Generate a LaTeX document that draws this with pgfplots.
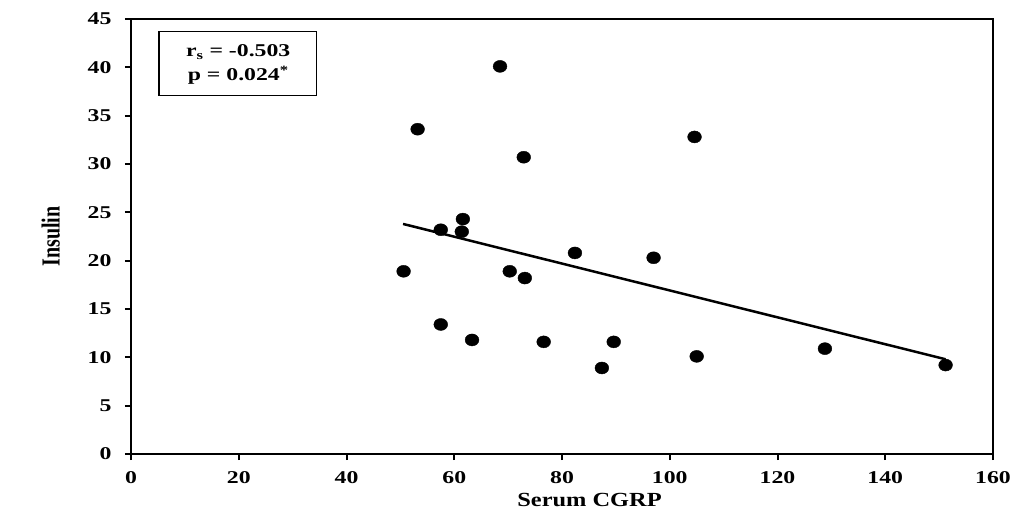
\documentclass[border=0pt]{standalone}
\usepackage{fontspec}
\setmainfont{Liberation Serif}[FakeStretch=1.32]
\newfontfamily\labelfont{Liberation Serif}[FakeStretch=1.22]
\newfontfamily\plainfont{Liberation Serif}
\usepackage{graphicx}
\usepackage{pgfplots}
\pgfplotsset{compat=1.18}
\begin{document}
\begin{tikzpicture}
\begin{axis}[
  scale only axis,
  width=862pt, height=435pt,
  xmin=0, xmax=160, ymin=0, ymax=45,
  xtick={0,20,...,160}, ytick={0,5,...,45},
  tick align=outside, xtick pos=bottom, ytick pos=left,
  major tick length=6pt,
  axis line style={line width=2.5pt},
  every tick/.style={black, line width=2pt},
  ticklabel style={font=\fontsize{18}{20}\selectfont\bfseries},
  xticklabel style={yshift=-8pt},
  yticklabel style={xshift=-10pt},
  /pgf/number format/assume math mode=true,
  xlabel={\labelfont\bfseries Serum CGRP},
  ylabel={\scalebox{1}[1.3]{\plainfont\bfseries Insulin}},
  label style={font=\fontsize{20}{22}\selectfont},
  xlabel style={at={(axis description cs:0.532,-0.106)}, anchor=center},
  ylabel style={at={(axis description cs:-0.093,0.5)}, anchor=center},
  clip=false,
]
\addplot[only marks, mark=*, mark size=6pt, mark options={xscale=1.15, fill=black}] coordinates {
  (50.6,18.9) (53.2,33.6) (57.5,23.2) (57.5,13.4) (61.6,24.3)
  (61.4,23.0) (63.3,11.8) (68.5,40.1) (70.3,18.9) (72.9,30.7)
  (73.1,18.2) (76.6,11.6) (82.4,20.8) (87.4,8.9) (89.6,11.6)
  (97.0,20.3) (104.6,32.8) (105.0,10.1) (128.8,10.9) (151.2,9.2)
};
\addplot[black, line width=2.5pt] coordinates {(50.5,23.8) (151.2,9.8)};
\draw[line width=1.5pt] (axis cs:5.2,43.7) rectangle (axis cs:34.4,37.1);
\node[align=center, font=\fontsize{18}{24}\selectfont\bfseries] at (axis cs:19.9,40.3)
  {r\textsubscript{s} = -0.503\\p = 0.024\textsuperscript{*}};
\end{axis}
\pgfresetboundingbox
\useasboundingbox (-131pt,-60pt) rectangle (904pt,454pt);
\end{tikzpicture}
\end{document}
